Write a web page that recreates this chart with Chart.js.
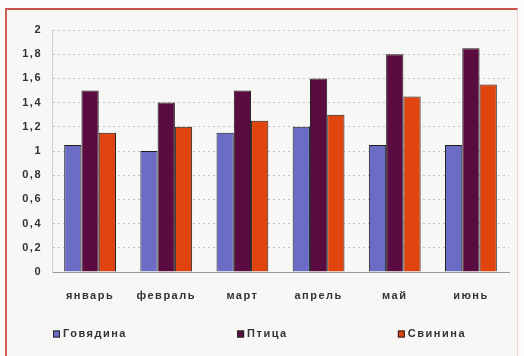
<!DOCTYPE html>
<html>
<head>
<meta charset="utf-8">
<script src="https://cdn.jsdelivr.net/npm/chart.js@4"></script>
<style>
  html, body { margin: 0; padding: 0; background: #fbfbfa; }
  #wrap { position: relative; width: 524px; height: 356px; overflow: hidden; }
  #frame {
    position: absolute; left: 5px; top: 8px; width: 510px; height: 360px;
    border-top: 2px solid #c9524c; border-left: 2px solid #d2605a;
    border-right: 1px solid #f1d6d4;
    background: #f7f7f5;
  }
  canvas { position: absolute; left: 0; top: 0; }
</style>
</head>
<body>
<div id="wrap">
  <div id="frame"></div>
  <canvas id="c" width="524" height="356"></canvas>
</div>
<script>
// Months (January – June)
const months = ['январь', 'февраль', 'март', 'апрель', 'май', 'июнь'];
// Series values
const beef = [1.05, 1.0, 1.15, 1.2, 1.05, 1.05];     // Говядина
const poultry = [1.5, 1.4, 1.5, 1.6, 1.8, 1.85];     // Птица
const pork = [1.15, 1.2, 1.25, 1.3, 1.45, 1.55];     // Свинина
// Value axis ticks
const yTicks = [0, 0.2, 0.4, 0.6, 0.8, 1, 1.2, 1.4, 1.6, 1.8, 2];

const seriesNames = ['Говядина', 'Птица', 'Свинина'];
const seriesColors = ['#6b6cc6', '#5a0c40', '#e1450f'];
const textColor = '#333333';
const fontFamily = '"Liberation Sans", Arial, sans-serif';

// Spaced-out lettering for all canvas text
const spacingPlugin = {
  id: 'spacing',
  beforeDraw(chart) { chart.ctx.letterSpacing = '1.5px'; }
};

// Legend laid out across the bottom, items separated by equal gaps
const spreadLegend = {
  id: 'spreadLegend',
  afterDraw(chart) {
    const ctx = chart.ctx;
    const area = chart.chartArea;
    ctx.save();
    ctx.letterSpacing = '1.5px';
    ctx.font = 'bold 11px ' + fontFamily;
    const box = 7, gapText = 3;
    const widths = chart.data.datasets.map(d => box + gapText + ctx.measureText(d.label).width);
    const left = area.left + 1, right = area.right - 43;
    const total = widths.reduce((a, b) => a + b, 0);
    const gap = (right - left - total) / (widths.length - 1);
    const y = area.bottom + 62;
    let x = left;
    chart.data.datasets.forEach((d, i) => {
      ctx.fillStyle = d.backgroundColor;
      ctx.strokeStyle = '#222';
      ctx.lineWidth = 1;
      ctx.fillRect(x, y - box / 2, box, box);
      ctx.strokeRect(x + 0.5, y - box / 2 + 0.5, box - 1, box - 1);
      ctx.fillStyle = textColor;
      ctx.textBaseline = 'middle';
      ctx.textAlign = 'left';
      ctx.fillText(d.label, x + box + gapText, y);
      x += widths[i] + gap;
    });
    ctx.restore();
  }
};

new Chart(document.getElementById('c'), {
  type: 'bar',
  data: {
    labels: months,
    datasets: [beef, poultry, pork].map((values, i) => ({
      label: seriesNames[i],
      data: values,
      backgroundColor: seriesColors[i],
      borderColor: '#1e1e1e',
      borderWidth: 1,
      borderSkipped: 'bottom',
      categoryPercentage: 0.68,
      barPercentage: 1.0
    }))
  },
  options: {
    responsive: false,
    animation: false,
    events: [],
    layout: { padding: { top: 30, right: 15, left: 0, bottom: 0 } },
    plugins: {
      legend: { display: false },
      tooltip: { enabled: false },
      title: { display: false }
    },
    scales: {
      x: {
        grid: { display: false, drawTicks: false },
        border: { display: true, color: '#9a9a9a', width: 1 },
        ticks: {
          color: textColor,
          font: { family: fontFamily, size: 11, weight: 'bold' },
          padding: 17,
          maxRotation: 0
        },
        afterFit(scale) { scale.height = 84; }
      },
      y: {
        min: 0,
        max: 2,
        afterBuildTicks(scale) { scale.ticks = yTicks.map(v => ({ value: v })); },
        grid: {
          color: '#c2c2c2',
          drawTicks: false,
          tickLength: 0
        },
        border: { display: true, color: '#d0d0d0', width: 1, dash: [2, 3] },
        ticks: {
          color: textColor,
          font: { family: fontFamily, size: 11, weight: 'bold' },
          padding: 10,
          callback: v => String(v).replace('.', ',')
        },
        afterFit(scale) { scale.width = 52; }
      }
    }
  },
  plugins: [spacingPlugin, spreadLegend]
});
</script>
</body>
</html>
